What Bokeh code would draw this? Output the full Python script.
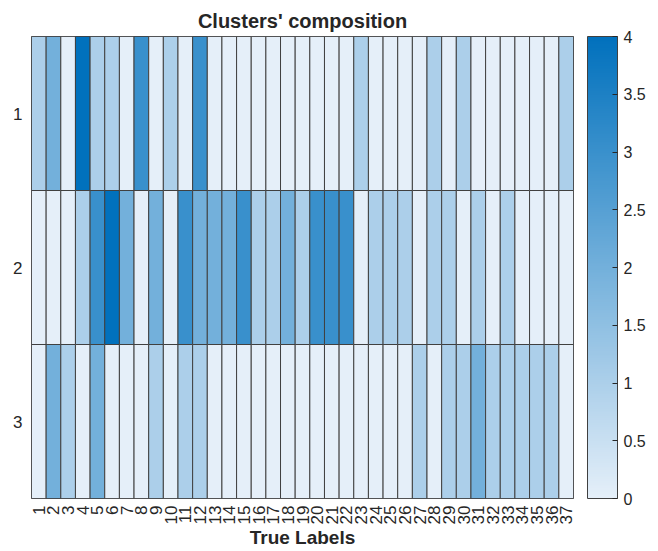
from bokeh.plotting import figure
from bokeh.models import (ColumnDataSource, LinearColorMapper, ColorBar,
                          FixedTicker)
from bokeh.embed import file_html
from bokeh.resources import INLINE

# Counts of each true label (columns) falling into each cluster (rows)
true_labels = [str(i) for i in range(1, 38)]
clusters = ["1", "2", "3"]
cluster1 = [1, 2, 0, 4, 1, 1, 0, 3, 0, 1, 0, 3, 0, 0, 0, 0, 0, 0, 0, 0, 0, 0,
            1, 0, 0, 0, 0, 1, 0, 1, 0, 0, 0, 0, 0, 0, 1]
cluster2 = [0, 0, 0, 1, 3, 4, 2, 0, 2, 0, 3, 2, 2, 2, 3, 1, 1, 2, 1, 3, 3, 3,
            0, 1, 1, 1, 0, 1, 1, 0, 1, 0, 1, 0, 0, 0, 0]
cluster3 = [0, 2, 1, 0, 2, 0, 0, 0, 1, 0, 1, 1, 0, 0, 0, 0, 0, 0, 0, 0, 0, 0,
            0, 0, 0, 0, 1, 0, 1, 1, 2, 1, 1, 1, 1, 1, 0]
colorbar_ticks = [0, 0.5, 1, 1.5, 2, 2.5, 3, 3.5, 4]

rows = [cluster1, cluster2, cluster3]
xs, ys, vals = [], [], []
for r, row in enumerate(rows):
    for c, v in enumerate(row):
        xs.append(c + 1)
        ys.append(r + 1)
        vals.append(v)
src = ColumnDataSource(dict(x=xs, y=ys, v=vals))

# Linear ramp from a pale blue to a saturated blue
lo = (229, 239, 249)
hi = (1, 113, 189)
n = 256
palette = []
for i in range(n):
    t = i / (n - 1)
    r, g, b = (round(lo[k] + (hi[k] - lo[k]) * t) for k in range(3))
    palette.append("#%02x%02x%02x" % (r, g, b))
mapper = LinearColorMapper(palette=palette, low=0, high=4)

FONT = "Liberation Sans"
TXT = "#262626"

p = figure(width=658, height=551, x_range=(0.5, 37.5), y_range=(3.5, 0.5),
           output_backend="svg", toolbar_location=None,
           title="Clusters' composition", x_axis_label="True Labels")
p.min_border_left = 31
p.min_border_top = 36
p.min_border_bottom = 53
p.min_border_right = 85

p.rect(x="x", y="y", width=1, height=1, source=src,
       fill_color={"field": "v", "transform": mapper},
       line_color="#404040", line_width=1)

p.title.align = "center"
p.title.text_font = FONT
p.title.text_font_size = "20px"
p.title.text_font_style = "bold"
p.title.text_color = TXT

p.grid.visible = False
p.outline_line_color = "#3a3a3a"
p.background_fill_color = "white"

p.xaxis.ticker = FixedTicker(ticks=list(range(1, 38)))
p.xaxis.major_label_overrides = {i + 1: t for i, t in enumerate(true_labels)}
p.xaxis.major_label_orientation = 3.14159265 / 2
p.yaxis.ticker = FixedTicker(ticks=[1, 2, 3])
p.yaxis.major_label_overrides = {i + 1: t for i, t in enumerate(clusters)}

for ax in (p.xaxis, p.yaxis):
    ax.axis_line_color = None
    ax.major_tick_line_color = None
    ax.minor_tick_line_color = None
    ax.major_tick_in = 0
    ax.major_tick_out = 0
    ax.major_label_text_font = FONT
    ax.major_label_text_font_size = "17px"
    ax.major_label_text_color = TXT
p.xaxis.major_label_standoff = 7
p.yaxis.major_label_standoff = 9
p.xaxis.axis_label_text_font = FONT
p.xaxis.axis_label_text_font_size = "19px"
p.xaxis.axis_label_text_font_style = "bold"
p.xaxis.axis_label_text_color = TXT
p.xaxis.axis_label_standoff = 0

cb = ColorBar(color_mapper=mapper, ticker=FixedTicker(ticks=colorbar_ticks),
              width=30, height=462, location=(14, 0), margin=0, padding=0,
              major_tick_in=5, major_tick_out=0, major_tick_line_color=TXT,
              bar_line_color="#404040", border_line_color=None,
              label_standoff=6, major_label_text_font=FONT,
              major_label_text_font_size="16px", major_label_text_color=TXT)
p.add_layout(cb, "right")

open("out.html", "w").write(file_html(p, INLINE))
